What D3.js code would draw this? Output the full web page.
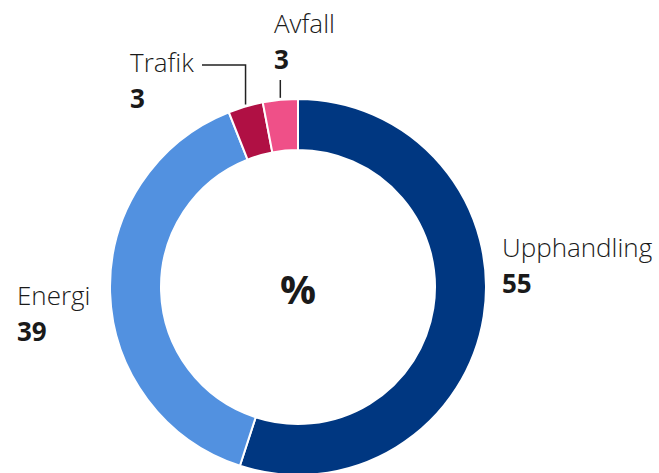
<!DOCTYPE html>
<html lang="en">
<head>
    <meta charset="UTF-8">
    <title>Donut</title>
    <style>
        body { margin: 0; background: #fff; }
        text { font-family: "Open Sans", "Noto Sans", sans-serif; fill: #1a1a1a; }
        .name { font-size: 26px; font-weight: 300; }
        .val { font-size: 26px; font-weight: 700; }
    </style>
</head>
<body>
    <svg id="chart" width="659" height="473"></svg>

    <script src="https://d3js.org/d3.v7.min.js"></script>
    <script>
        const categories = ["Upphandling", "Energi", "Trafik", "Avfall"];
        const values = [55, 39, 3, 3];
        const colors = ["#003781", "#5291e0", "#b01044", "#ef5088"];

        const width = 659, height = 473;
        const cx = 298, cy = 287, outerR = 188, innerR = 137;

        const svg = d3.select("#chart");
        const g = svg.append("g").attr("transform", `translate(${cx},${cy})`);

        const data = categories.map((c, i) => ({ name: c, value: values[i], color: colors[i] }));

        const pie = d3.pie().sort(null).value(d => d.value);
        const arc = d3.arc().innerRadius(innerR).outerRadius(outerR);
        const arcs = pie(data);

        g.selectAll("path")
            .data(arcs)
            .enter().append("path")
            .attr("d", arc)
            .attr("fill", d => d.data.color)
            .attr("stroke", "#fff")
            .attr("stroke-width", 2);

        g.append("text")
            .attr("text-anchor", "middle")
            .attr("y", 17)
            .style("font-size", "40px")
            .style("font-weight", "700")
            .text("%");

        // label placement: text start relative to center
        const labelPos = {
            "Upphandling": { x: 204, y: -30 },
            "Energi": { x: -281, y: 18 },
            "Trafik": { x: -168, y: -215 },
            "Avfall": { x: -24, y: -254 }
        };

        arcs.forEach(a => {
            const p = labelPos[a.data.name];
            const t = g.append("g").attr("transform", `translate(${p.x},${p.y})`);
            t.append("text").attr("class", "name").text(a.data.name);
            t.append("text").attr("class", "val").attr("y", 36).text(a.data.value);
        });

        // leader lines for small slices
        const mid = a => (a.startAngle + a.endAngle) / 2;
        const edge = a => [Math.sin(mid(a)) * outerR, -Math.cos(mid(a)) * outerR];

        const trafik = arcs[2];
        const te = edge(trafik);
        g.append("polyline")
            .attr("points", [[te[0], te[1] - 2], [te[0], -222], [-96, -222]].map(p => p.join(",")).join(" "))
            .attr("fill", "none")
            .attr("stroke", "#222")
            .attr("stroke-width", 1.5);

        const avfall = arcs[3];
        const ae = edge(avfall);
        g.append("line")
            .attr("x1", ae[0]).attr("y1", ae[1] - 2)
            .attr("x2", ae[0]).attr("y2", -207)
            .attr("stroke", "#222")
            .attr("stroke-width", 1.5);
    </script>
</body>
</html>
